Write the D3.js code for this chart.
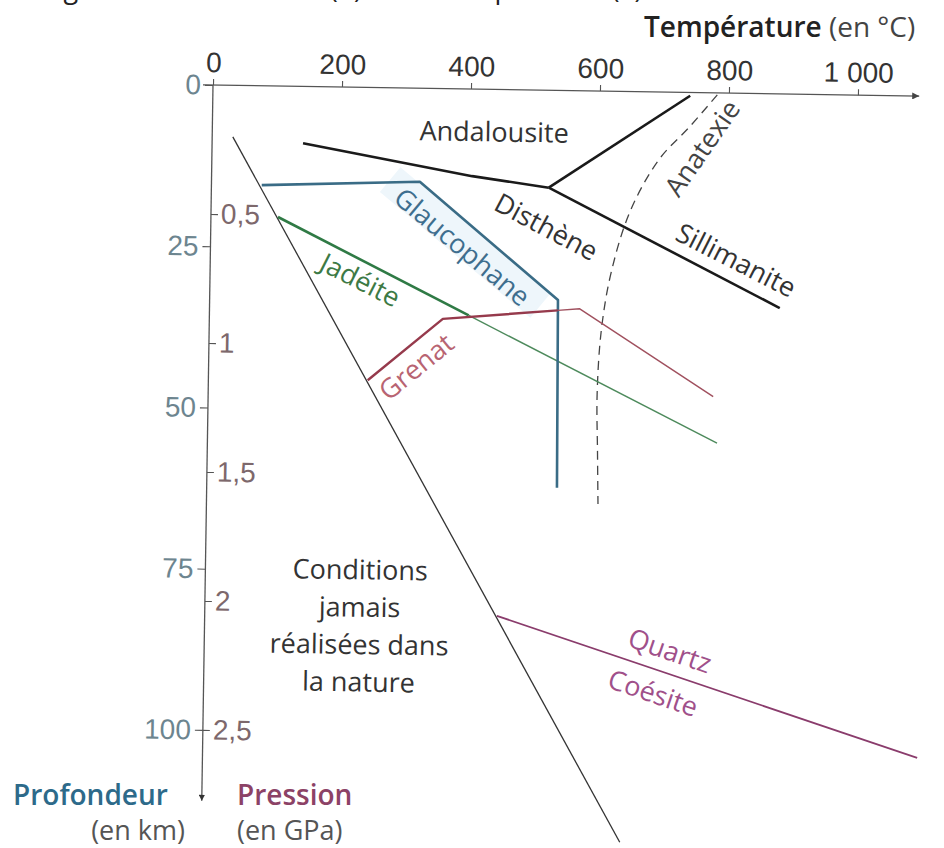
<!DOCTYPE html>
<html lang="fr">
<head>
<meta charset="utf-8">
<script src="https://cdn.jsdelivr.net/npm/d3@7"></script>
<style>
  html, body { margin: 0; padding: 0; background: #fff; }
  svg { display: block; font-family: "Open Sans", "Noto Sans", sans-serif; }
  .tick text { font-size: 28px; }
  .tick line { stroke: #555; stroke-width: 1.1; }
</style>
</head>
<body>
<div id="chart"></div>
<script>
// Define SVG dimensions
let svgWidth = 944;
let svgHeight = 848;
let origin = { x: 213, y: 85 };
let tilt = 0.9; // the scanned page sits slightly rotated

// Axis ticks
let tempTicks = [0, 200, 400, 600, 800, 1000];
let depthTicks = [0, 25, 50, 75, 100];
let pressureTicks = [0.5, 1, 1.5, 2, 2.5];

// Boundaries, as [temperature (°C), depth (km)]
let geothermLimit = [[32, 8], [649, 116.4]];
let andalousiteDisthene = [[141, 8.8], [404, 13.5], [523, 15.1]];
let andalousiteSillimanite = [[523, 15.1], [740, 0.5]];
let distheneSillimanite = [[523, 15.1], [884, 33.2]];
let anatexie = [[782, 0.3], [740, 5.3], [693, 10.5], [650, 18.5], [622, 28], [608, 37], [603, 47], [605, 56], [607, 64]];
let glaucophane = [[78, 15.4], [323, 14.5], [540, 32.5], [543, 61.6]];
let jadeiteBold = [[104, 20.3], [402, 35.1]];
let jadeiteThin = [[402, 35.1], [790, 54.3]];
let grenatBold = [[247, 45.4], [362, 35.7], [540, 34.1]];
let grenatThin = [[540, 34.1], [574, 33.8], [783, 47.1]];
let quartzCoesite = [[453, 81.6], [1108, 102.6]];

// French number format: "1 000", "0,5"
let fr = d3.formatLocale({ decimal: ",", thousands: " ", grouping: [3], currency: ["", " €"] });

// Create SVG wrapper & chart holder
let svg = d3.select("#chart")
            .append("svg")
            .attr("width", svgWidth)
            .attr("height", svgHeight);

let defs = svg.append("defs");
defs.append("marker")
    .attr("id", "arrowX")
    .attr("viewBox", "0 0 10 10")
    .attr("refX", 10).attr("refY", 5)
    .attr("markerUnits", "userSpaceOnUse")
    .attr("markerWidth", 15).attr("markerHeight", 7)
    .attr("orient", "auto")
    .append("path").attr("d", "M0,0L10,5L0,10Z").attr("fill", "#444");
defs.append("marker")
    .attr("id", "arrowY")
    .attr("viewBox", "0 0 10 10")
    .attr("refX", 10).attr("refY", 5)
    .attr("markerUnits", "userSpaceOnUse")
    .attr("markerWidth", 9).attr("markerHeight", 6)
    .attr("orient", "auto")
    .append("path").attr("d", "M0,0L10,5L0,10Z").attr("fill", "#333");

// cropped caption of the page above the chart (only its descenders show)
svg.append("text")
   .attr("x", 22).attr("y", -2)
   .attr("font-size", "27px")
   .attr("fill", "#222")
   .text("Diagramme de Pression (P) et de Température (T)");

let chartGroup = svg.append("g")
                    .attr("transform", `translate(${origin.x}, ${origin.y}) rotate(${tilt})`);

// create scales
let xScale = d3.scaleLinear().domain([0, 1000]).range([0, 645]);
let depthScale = d3.scaleLinear().domain([0, 100]).range([0, 645]);
let pressureScale = d3.scaleLinear().domain([0, 2.5]).range([0, 645]);

// create axes
let topAxis = d3.axisTop(xScale)
    .tickValues(tempTicks)
    .tickSize(6).tickPadding(7)
    .tickFormat(fr.format(",d"));
let depthAxis = d3.axisLeft(depthScale)
    .tickValues(depthTicks)
    .tickSize(8).tickPadding(4);
let pressureAxis = d3.axisRight(pressureScale)
    .tickValues(pressureTicks)
    .tickSize(7).tickPadding(3)
    .tickFormat(fr.format("~g"));

let gx = chartGroup.append("g").call(topAxis);
gx.selectAll(".tick text").attr("fill", "#333");
let gd = chartGroup.append("g").call(depthAxis);
gd.selectAll(".tick text").attr("fill", "#6d858f");
let gp = chartGroup.append("g").call(pressureAxis);
gp.selectAll(".tick text").attr("fill", "#7d686c");
chartGroup.selectAll(".domain").remove();

// axis lines with arrows
chartGroup.append("line")
    .attr("x1", -10).attr("y1", 0)
    .attr("x2", xScale(1095)).attr("y2", 0)
    .attr("stroke", "#555").attr("stroke-width", 1.3)
    .attr("marker-end", "url(#arrowX)");
chartGroup.append("line")
    .attr("x1", 0).attr("y1", 0)
    .attr("x2", 0).attr("y2", depthScale(111))
    .attr("stroke", "#555").attr("stroke-width", 1.3)
    .attr("marker-end", "url(#arrowY)");

let line = d3.line()
    .x(d => xScale(d[0]))
    .y(d => depthScale(d[1]));

// light blue wash along glaucophane
chartGroup.append("g")
    .attr("transform", `translate(${xScale(395)}, ${depthScale(23.8)}) rotate(39)`)
    .append("rect")
    .attr("x", -98).attr("y", -16)
    .attr("width", 196).attr("height", 32)
    .attr("fill", "#eef6fb");

function drawPath(data, color, width, dash, curve) {
    chartGroup.append("path")
        .datum(data)
        .attr("d", line.curve(curve || d3.curveLinear)(data))
        .attr("fill", "none")
        .attr("stroke", color)
        .attr("stroke-width", width)
        .attr("stroke-linejoin", "round")
        .attr("stroke-dasharray", dash || null);
}

drawPath(geothermLimit, "#333", 1.3);
drawPath(anatexie, "#444", 1.3, "9,6", d3.curveCatmullRom);
drawPath(jadeiteThin, "#4d8a5c", 1.4);
drawPath(jadeiteBold, "#2f7a45", 2.6);
drawPath(glaucophane, "#3a6c86", 2.6);
drawPath(grenatThin, "#a0505e", 1.4);
drawPath(grenatBold, "#963a4c", 2.4);
drawPath(andalousiteDisthene, "#1a1a1a", 2.6);
drawPath(andalousiteSillimanite, "#1a1a1a", 2.6);
drawPath(distheneSillimanite, "#1a1a1a", 2.6);
drawPath(quartzCoesite, "#8a3c6c", 1.8);

// add mineral labels
let labels = [
    { text: "Andalousite", t: 437, d: 6.6, angle: 0, color: "#333" },
    { text: "Glaucophane", t: 390, d: 24.5, angle: 39, color: "#3e6e8e" },
    { text: "Jadéite", t: 233, d: 29.9, angle: 26, color: "#3d7a45" },
    { text: "Grenat", t: 322, d: 43.2, angle: -40, color: "#b86472" },
    { text: "Disthène", t: 520, d: 21.2, angle: 27, color: "#333" },
    { text: "Sillimanite", t: 815, d: 25.9, angle: 26, color: "#333" },
    { text: "Anatexie", t: 760, d: 8.6, angle: -56, color: "#444" },
    { text: "Quartz", t: 722, d: 86.6, angle: 18, color: "#a0508a" },
    { text: "Coésite", t: 697, d: 93.2, angle: 18, color: "#a0508a" }
];
chartGroup.selectAll(".mineral")
    .data(labels)
    .enter()
    .append("text")
    .attr("class", "mineral")
    .attr("transform", d => `translate(${xScale(d.t)}, ${depthScale(d.d)}) rotate(${d.angle})`)
    .attr("text-anchor", "middle")
    .attr("dy", "0.35em")
    .attr("font-size", "27px")
    .attr("fill", d => d.color)
    .text(d => d.text);

let noteLines = ["Conditions", "jamais", "réalisées dans", "la nature"];
chartGroup.selectAll(".note")
    .data(noteLines)
    .enter()
    .append("text")
    .attr("class", "note")
    .attr("x", xScale(240))
    .attr("y", (d, i) => depthScale(74.8 + i * 5.8))
    .attr("dy", "0.35em")
    .attr("text-anchor", "middle")
    .attr("font-size", "27px")
    .attr("fill", "#333")
    .text(d => d);

// axis titles
let tTitle = svg.append("text")
    .attr("x", 644).attr("y", 37)
    .attr("font-size", "28px")
    .attr("fill", "#222");
tTitle.append("tspan").attr("font-weight", 600).text("Température");
tTitle.append("tspan").attr("fill", "#444").text(" (en °C)");

svg.append("text")
    .attr("x", 13).attr("y", 805)
    .attr("font-size", "28px").attr("font-weight", 600)
    .attr("fill", "#2d6a8a")
    .text("Profondeur");
svg.append("text")
    .attr("x", 185).attr("y", 840)
    .attr("text-anchor", "end")
    .attr("font-size", "27px")
    .attr("fill", "#555")
    .text("(en km)");
svg.append("text")
    .attr("x", 237).attr("y", 805)
    .attr("font-size", "28px").attr("font-weight", 600)
    .attr("fill", "#8c4266")
    .text("Pression");
svg.append("text")
    .attr("x", 237).attr("y", 840)
    .attr("font-size", "27px")
    .attr("fill", "#555")
    .text("(en GPa)");
</script>
</body>
</html>
